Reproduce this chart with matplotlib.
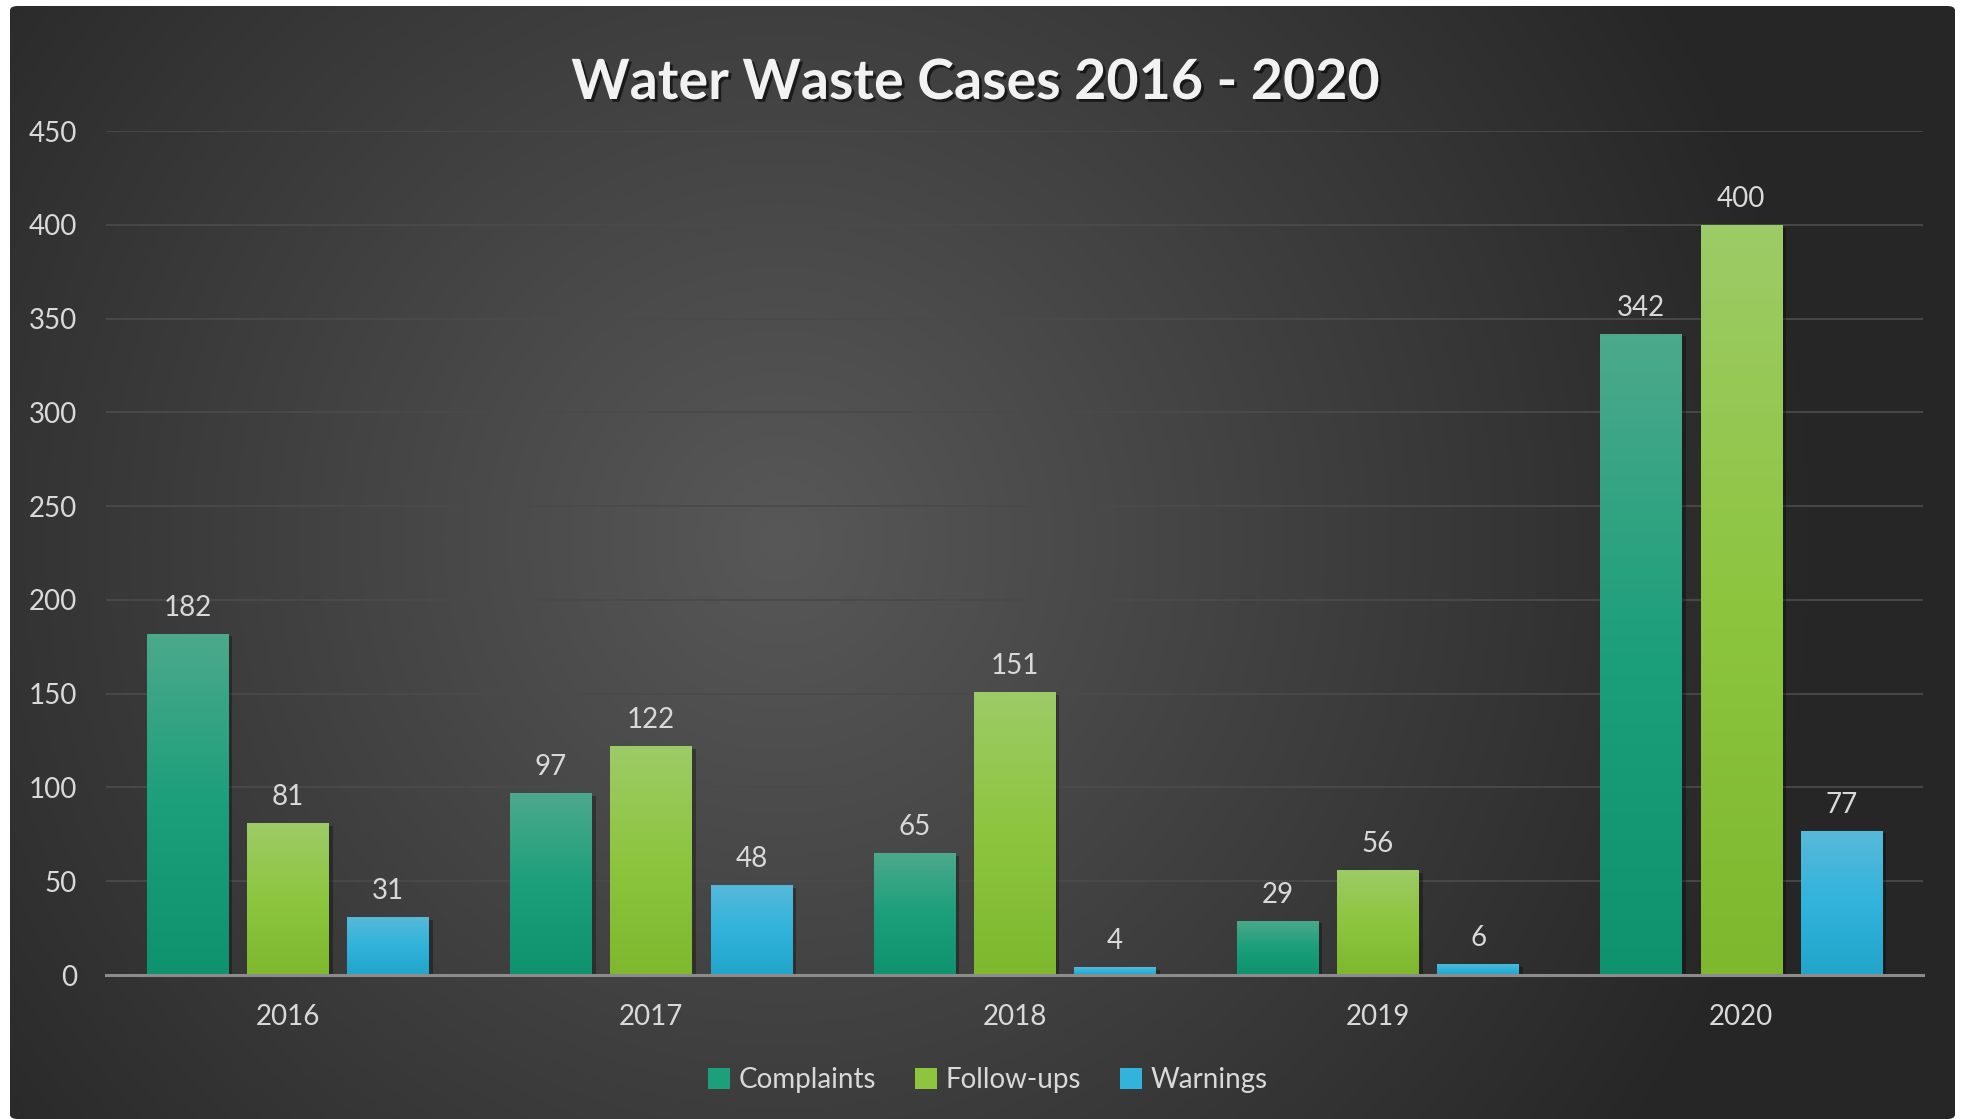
import numpy as np
import matplotlib
matplotlib.use("Agg")
import matplotlib.pyplot as plt
import matplotlib.patheffects as pe
from matplotlib.colors import LinearSegmentedColormap
from matplotlib.patches import FancyBboxPatch, Patch

# ── Data ─────────────────────────────────────────────────────────────────────
years      = ["2016", "2017", "2018", "2019", "2020"]
complaints = [182, 97, 65, 29, 342]
followups  = [81, 122, 151, 56, 400]
warnings   = [31, 48, 4, 6, 77]
series_names = ["Complaints", "Follow-ups", "Warnings"]
y_ticks    = [0, 50, 100, 150, 200, 250, 300, 350, 400, 450]

# gradient stops per series (top, middle, bottom)
grads = [
    ["#4ca98b", "#1c9f7b", "#0e936e"],
    ["#9dcb67", "#8dc53f", "#7db82e"],
    ["#58b9d9", "#31b3dc", "#21a5ca"],
]

FONT = "Lato"
W, H = 1961, 1119

fig = plt.figure(figsize=(W / 100, H / 100), dpi=100)
fig.patch.set_facecolor("white")

# ── Background panel (radial gradient) ───────────────────────────────────────
px0, py0, px1 = 10, 6, 1955
bg = fig.add_axes([px0 / W, 0, (px1 - px0) / W, (H - py0) / H])
bg.set_axis_off()
yy, xx = np.mgrid[py0:H, px0:px1]
r = np.hypot(xx - 780, yy - 540) / 1050
t = np.clip(r, 0, 1)
c_in, c_out = 0x58 / 255, 0x26 / 255
img = c_in + (c_out - c_in) * t
bg_img = bg.imshow(np.dstack([img, img, img]), aspect="auto",
                   extent=[0, 1, 0, 1], interpolation="bilinear")
bg.set_xlim(0, 1)
bg.set_ylim(0, 1)
clip = FancyBboxPatch((0, 0), 1, 1, boxstyle="round,pad=0,rounding_size=0.004",
                      transform=bg.transAxes, facecolor="none", edgecolor="none")
bg.add_patch(clip)
bg_img.set_clip_path(clip)

# ── Main axes ────────────────────────────────────────────────────────────────
ax = fig.add_axes([106 / W, 144 / H, (1923 - 106) / W, (975 - 131) / H])
ax.patch.set_alpha(0)

x = np.arange(len(years))
bw, step = 0.224, 0.276
data = [complaints, followups, warnings]

for i, (vals, stops) in enumerate(zip(data, grads)):
    cmap = LinearSegmentedColormap.from_list(f"g{i}", stops[::-1])
    grad = np.linspace(0, 1, 256).reshape(-1, 1)
    bars = ax.bar(x + (i - 1) * step, vals, bw, color=stops[1], zorder=3,
                  linewidth=0)
    for b, v in zip(bars, vals):
        b.set_path_effects([pe.SimplePatchShadow(offset=(3, -2),
                                                 shadow_rgbFace="black",
                                                 alpha=0.3),
                            pe.Normal()])
        x0, w = b.get_x(), b.get_width()
        im = ax.imshow(grad, cmap=cmap, aspect="auto", origin="lower",
                       extent=[x0, x0 + w, 0, v], zorder=4,
                       interpolation="bilinear")
        im.set_clip_path(b)
        ax.annotate(f"{v}", (x0 + w / 2, v), xytext=(0, 13),
                    textcoords="offset points", ha="center", va="baseline",
                    fontsize=20, color="#d9d9d9", family=FONT, zorder=5)

ax.set_xlim(-0.5, len(years) - 0.5)
ax.set_ylim(0, 450)
ax.set_yticks(y_ticks)
ax.set_xticks(x)
ax.set_xticklabels(years)
ax.tick_params(length=0, labelsize=20, labelcolor="#d9d9d9", pad=21)
for lab in ax.get_xticklabels() + ax.get_yticklabels():
    lab.set_family(FONT)
ax.grid(axis="y", color="#4a4a4a", linewidth=1.3, zorder=0)
ax.set_axisbelow(True)
for s in ["top", "right", "left"]:
    ax.spines[s].set_visible(False)
ax.spines["bottom"].set_color("#8c8c8c")
ax.spines["bottom"].set_linewidth(2.2)
ax.spines["bottom"].set_zorder(6)

# ── Title ────────────────────────────────────────────────────────────────────
fig.text(975 / W, 1 - 83 / H, "Water Waste Cases 2016 - 2020",
         ha="center", va="center", fontsize=40, fontweight="bold",
         color="#f2f2f2", family=FONT,
         path_effects=[pe.withSimplePatchShadow(offset=(2, -2),
                                                shadow_rgbFace="black",
                                                alpha=0.6)])

# ── Legend ───────────────────────────────────────────────────────────────────
handles = [Patch(facecolor=g[1], edgecolor="none") for g in grads]
leg = fig.legend(handles, series_names, loc="center",
                 bbox_to_anchor=(988 / W, 1 - 1080 / H), ncol=3,
                 frameon=False, labelcolor="#d9d9d9",
                 handlelength=0.8, handleheight=0.8, handletextpad=0.3,
                 columnspacing=1.4, prop={"family": FONT, "size": 20})

fig.savefig("out.png", dpi=100, facecolor=fig.get_facecolor())
plt.close(fig)
